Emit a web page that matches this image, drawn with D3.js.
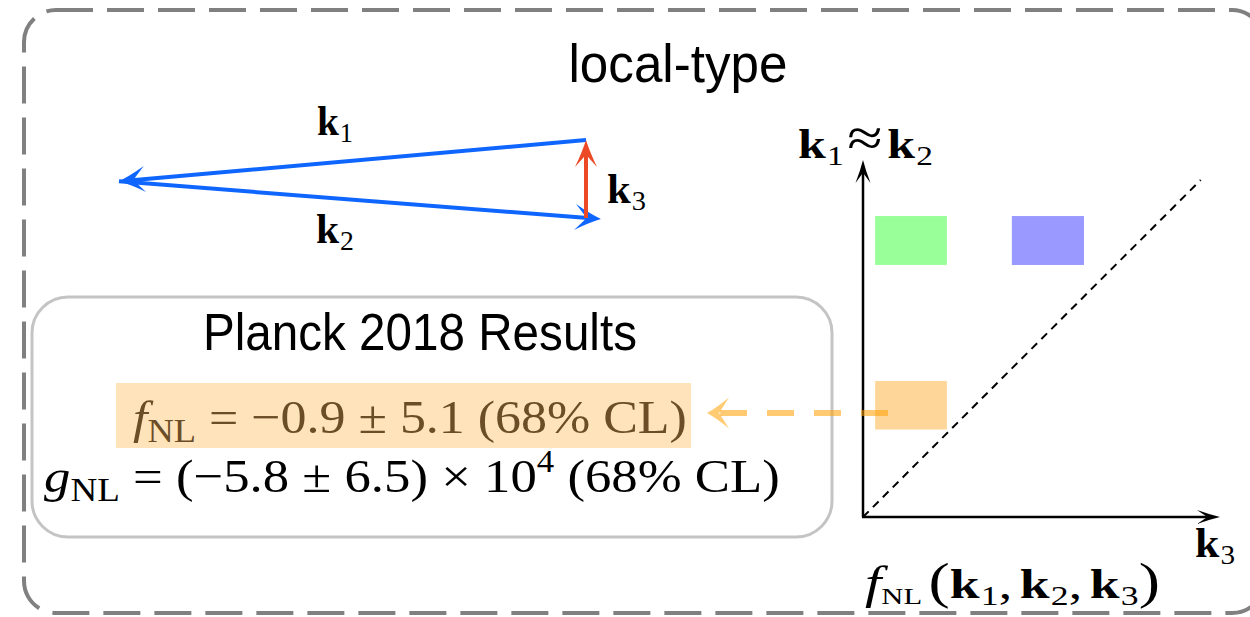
<!DOCTYPE html>
<html><head><meta charset="utf-8">
<script src="https://cdn.jsdelivr.net/npm/d3@7"></script>
<style>html,body{margin:0;padding:0;background:#fff;} svg{display:block;}</style>
</head><body>
<script>
// ---------------- data ----------------
const titleText = "local-type";
const resultsTitle = "Planck 2018 Results";
const fnlResult = ["−0.9", "5.1"];          // central value, 1σ
const gnlResult = ["−5.8", "6.5", "4"];     // central value, 1σ, power of ten
const confLevel = "68% CL";

// triangle of wave-vectors (diagram units)
const triNames = ["A", "B", "C", "Ctip"];
const triX = [0, 1, 1, 1.032];
const triY = [0.53, 0, 1, 1.014];

// shape-space panel: regions (k3 axis, k1≈k2 axis, both 0..1)
const regionColors = ["#99ff99", "#9999ff", "#ffd699"];
const regionX0 = [0.034, 0.417, 0.034];
const regionX1 = [0.235, 0.619, 0.235];
const regionY0 = [0.706, 0.706, 0.245];
const regionY1 = [0.843, 0.843, 0.381];
const diagonalEnd = [0.946, 0.944];
const pointerY = 0.291;            // level of the orange pointer
const pointerX = [0.07, -0.40, -0.437]; // dash start, dash end, tip

// ---------------- setup ----------------
const W = 1250, H = 617;
const svg = d3.select("body").append("svg").attr("width", W).attr("height", H);

function arrowHead(g, tx, ty, angle, L, Wd, color, opacity) {
  const p = `M0,0 Q${-L*0.45},${-Wd*0.35} ${-L},${-Wd} L${-L*0.55},0 L${-L},${Wd} Q${-L*0.45},${Wd*0.35} 0,0 Z`;
  g.append("path").attr("d", p).attr("fill", color).attr("opacity", opacity == null ? 1 : opacity)
    .attr("transform", `translate(${tx},${ty}) rotate(${angle*180/Math.PI})`);
}
function arrow(g, x1, y1, x2, y2, color, sw, L, Wd, opts) {
  opts = opts || {};
  const a = Math.atan2(y2 - y1, x2 - x1);
  const back = L * 0.5;
  g.append("line").attr("x1", x1).attr("y1", y1)
    .attr("x2", x2 - back*Math.cos(a)).attr("y2", y2 - back*Math.sin(a))
    .attr("stroke", color).attr("stroke-width", sw).attr("stroke-linecap", "butt")
    .attr("stroke-dasharray", opts.dash || null).attr("opacity", opts.opacity == null ? 1 : opts.opacity);
  arrowHead(g, x2, y2, a, L, Wd, color, opts.opacity);
}
function richText(parent, x, y, parts, o) {
  const t = parent.append("text").attr("font-family", o.family).attr("font-size", o.size)
    .attr("fill", o.fill || "#000").attr("x", 0).attr("y", 0);
  parts.forEach(p => {
    const s = t.append("tspan").text(p.t);
    if (p.size) s.attr("font-size", p.size);
    if (p.dy) s.attr("dy", p.dy);
    if (p.dx) s.attr("dx", p.dx);
    if (p.it) s.attr("font-style", "italic");
    if (p.b) s.attr("font-weight", "bold");
    if (p.fam) s.attr("font-family", p.fam);
  });
  const bb = t.node().getBBox();
  const sx = o.width ? o.width / bb.width : 1;
  let left = x;
  if (o.anchor === "middle") left = x - bb.width * sx / 2;
  t.attr("transform", `translate(${left - bb.x*sx},${y}) scale(${sx},1)`);
  return t;
}

// ---------------- outer frame ----------------
svg.append("rect").attr("x", 24).attr("y", 10).attr("width", 1240).attr("height", 603).attr("rx", 32)
  .attr("fill", "none").attr("stroke", "#808080").attr("stroke-width", 4).attr("stroke-dasharray", "37 14");

richText(svg, 678, 82, [{t: titleText}], {family: "Liberation Sans, Arial, sans-serif", size: 54, width: 219, anchor: "middle"});

// ---------------- wave-vector triangle ----------------
const tx = d3.scaleLinear().domain([0, 1]).range([119, 586]);
const ty = d3.scaleLinear().domain([0, 1]).range([140, 218]);
const P = i => [tx(triX[i]), ty(triY[i])];
const gT = svg.append("g");
const blue = "#0f66ff", red = "#ec4a26";
arrow(gT, ...P(1), ...P(0), blue, 4, 26, 13);
arrow(gT, ...P(0), ...P(3), blue, 4, 26, 13);
arrow(gT, ...P(2), ...P(1), red, 4, 27, 11);

const kFam = "Liberation Serif, Times New Roman, serif";
function kLabel(x, y, sub, w) {
  richText(svg, x, y, [{t: "k", b: true}, {t: sub, size: 28, dy: 7, dx: 1}], {family: kFam, size: 42, width: w});
}
kLabel(317, 135, "1", 36);
kLabel(316, 243, "2", 38);
kLabel(607, 203, "3", 39);

// ---------------- Planck box ----------------
svg.append("rect").attr("x", 32).attr("y", 297).attr("width", 800).attr("height", 240).attr("rx", 36)
  .attr("fill", "#fff").attr("stroke", "#c4c4c4").attr("stroke-width", 3);
richText(svg, 203, 350, [{t: resultsTitle}], {family: "Liberation Sans, Arial, sans-serif", size: 51, width: 434});

svg.append("rect").attr("x", 116).attr("y", 383).attr("width", 575).attr("height", 65).attr("fill", "#fee3bb");
const mFam = "Liberation Serif, Times New Roman, serif";
richText(svg, 133, 433, [
  {t: "f", it: true}, {t: "NL", size: 33, dy: 9},
  {t: ` = ${fnlResult[0]} ± ${fnlResult[1]} (${confLevel})`, dy: -9}
], {family: mFam, size: 47, width: 554, fill: "#6b4d27"});
richText(svg, 44, 492, [
  {t: "g", it: true}, {t: "NL", size: 33, dy: 9},
  {t: ` = (${gnlResult[0]} ± ${gnlResult[1]}) × 10`, dy: -9},
  {t: gnlResult[2], size: 31, dy: -20},
  {t: ` (${confLevel})`, dy: 20}
], {family: mFam, size: 47, width: 736});

// ---------------- shape-space panel ----------------
const xS = d3.scaleLinear().domain([0, 1]).range([863, 1220]);
const yS = d3.scaleLinear().domain([0, 1]).range([517, 160]);
const gP = svg.append("g");
gP.selectAll("rect.region").data(regionColors).join("rect").attr("class", "region")
  .attr("x", (d, i) => xS(regionX0[i])).attr("width", (d, i) => xS(regionX1[i]) - xS(regionX0[i]))
  .attr("y", (d, i) => yS(regionY1[i])).attr("height", (d, i) => yS(regionY0[i]) - yS(regionY1[i]))
  .attr("fill", d => d);
gP.append("line").attr("x1", xS(0)).attr("y1", yS(0)).attr("x2", xS(diagonalEnd[0])).attr("y2", yS(diagonalEnd[1]))
  .attr("stroke", "#000").attr("stroke-width", 2).attr("stroke-dasharray", "8 6");
arrow(gP, xS(0), yS(0), xS(0), yS(1), "#000", 2.5, 23, 7.5);
arrow(gP, xS(0) - 1, yS(0), xS(1), yS(0), "#000", 2.5, 23, 7);

// orange pointer
const orange = "#ffa000";
gP.append("line").attr("x1", xS(pointerX[0])).attr("y1", yS(pointerY)).attr("x2", xS(pointerX[1])).attr("y2", yS(pointerY))
  .attr("stroke", orange).attr("stroke-width", 6).attr("stroke-dasharray", "27 20").attr("opacity", 0.55);
arrowHead(gP, xS(pointerX[2]), yS(pointerY), Math.PI, 22, 15.5, orange, 0.55);

// axis labels
richText(svg, 798, 158, [
  {t: "k", b: true}, {t: "1", size: 28, dy: 7, dx: 1}, {t: "≈", size: 54, dy: -9, dx: 3},
  {t: "k", b: true, dy: 2, dx: 4}, {t: "2", size: 28, dy: 7, dx: 1}
], {family: kFam, size: 42, width: 135});
kLabel(1195, 557, "3", 40);
richText(svg, 865, 598, [
  {t: "f", it: true, size: 46}, {t: "NL", size: 24, dy: 6}, {t: "(", size: 50, dy: -6, dx: 5},
  {t: "k", b: true}, {t: "1", size: 28, dy: 7, dx: 1}, {t: ",", dy: -7},
  {t: "k", b: true, dx: 6}, {t: "2", size: 28, dy: 7, dx: 1}, {t: ",", dy: -7},
  {t: "k", b: true, dx: 6}, {t: "3", size: 28, dy: 7, dx: 1}, {t: ")", size: 50, dy: -7}
], {family: kFam, size: 42, width: 295});
</script>
</body></html>
